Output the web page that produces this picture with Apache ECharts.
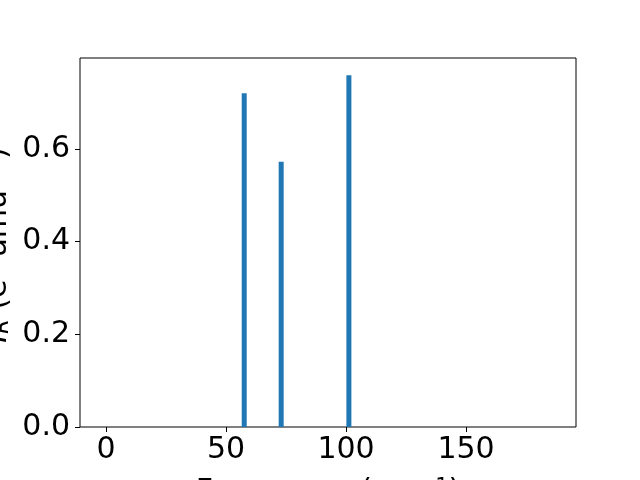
<!DOCTYPE html>
<html>
<head>
<meta charset="utf-8">
<script src="https://cdn.jsdelivr.net/npm/echarts@6/dist/echarts.min.js"></script>
<style>html,body{margin:0;padding:0;background:#fff}#c{width:640px;height:480px}</style>
</head>
<body>
<div id="c"></div>
<script>
const frequencies = [57.6, 73.0, 101.2];
const intensities = [0.720, 0.572, 0.759];
const xTicks = [0, 50, 100, 150];
const yTicks = [0, 0.2, 0.4, 0.6];

const chart = echarts.init(document.getElementById('c'), null, {renderer: 'canvas'});
const font = 'DejaVu Sans';
chart.setOption({
  animation: false,
  backgroundColor: '#fff',
  grid: {left: 80, right: 64, top: 58, bottom: 53, show: true, borderColor: '#000', borderWidth: 1, backgroundColor: 'transparent'},
  xAxis: {
    type: 'value', min: -10.8, max: 195.8,
    splitLine: {show: false},
    axisLine: {show: false, onZero: false},
    axisTick: {show: true, length: 5, lineStyle: {color: '#000', width: 1}, customValues: xTicks},
    axisLabel: {color: '#000', fontSize: 30, fontFamily: font, margin: 8, customValues: xTicks}
  },
  yAxis: {
    type: 'value', min: 0, max: 0.796,
    splitLine: {show: false},
    axisLine: {show: false, onZero: false},
    axisTick: {show: true, length: 5, lineStyle: {color: '#000', width: 1}, customValues: yTicks},
    axisLabel: {color: '#000', fontSize: 30, fontFamily: font, margin: 10, customValues: yTicks,
      formatter: v => v.toFixed(1)}
  },
  series: [{
    type: 'bar',
    data: frequencies.map((f, i) => [f, intensities[i]]),
    barWidth: 5,
    itemStyle: {color: '#1f77b4'}
  }],
  graphic: [
    {
      type: 'text', x: -1.5, y: 245, rotation: Math.PI / 2,
      style: {
        text: '{it|I}{sub|R} (e{sup|2} amu{sup|−1})',
        fill: '#000', font: '30px "DejaVu Sans"', align: 'center', verticalAlign: 'middle',
        rich: {
          it: {fontSize: 30, fontStyle: 'italic', fontFamily: font},
          sub: {fontSize: 21, fontStyle: 'italic', fontFamily: font, verticalAlign: 'bottom'},
          sup: {fontSize: 21, fontFamily: font, verticalAlign: 'top'}
        }
      }
    },
    {
      type: 'text', x: 328, y: 492,
      style: {
        text: 'Frequency (cm{sup|−1})',
        fill: '#000', font: '30px "DejaVu Sans"', align: 'center', verticalAlign: 'middle',
        rich: {sup: {fontSize: 21, fontFamily: font, verticalAlign: 'top'}}
      }
    }
  ]
});
</script>
</body>
</html>
